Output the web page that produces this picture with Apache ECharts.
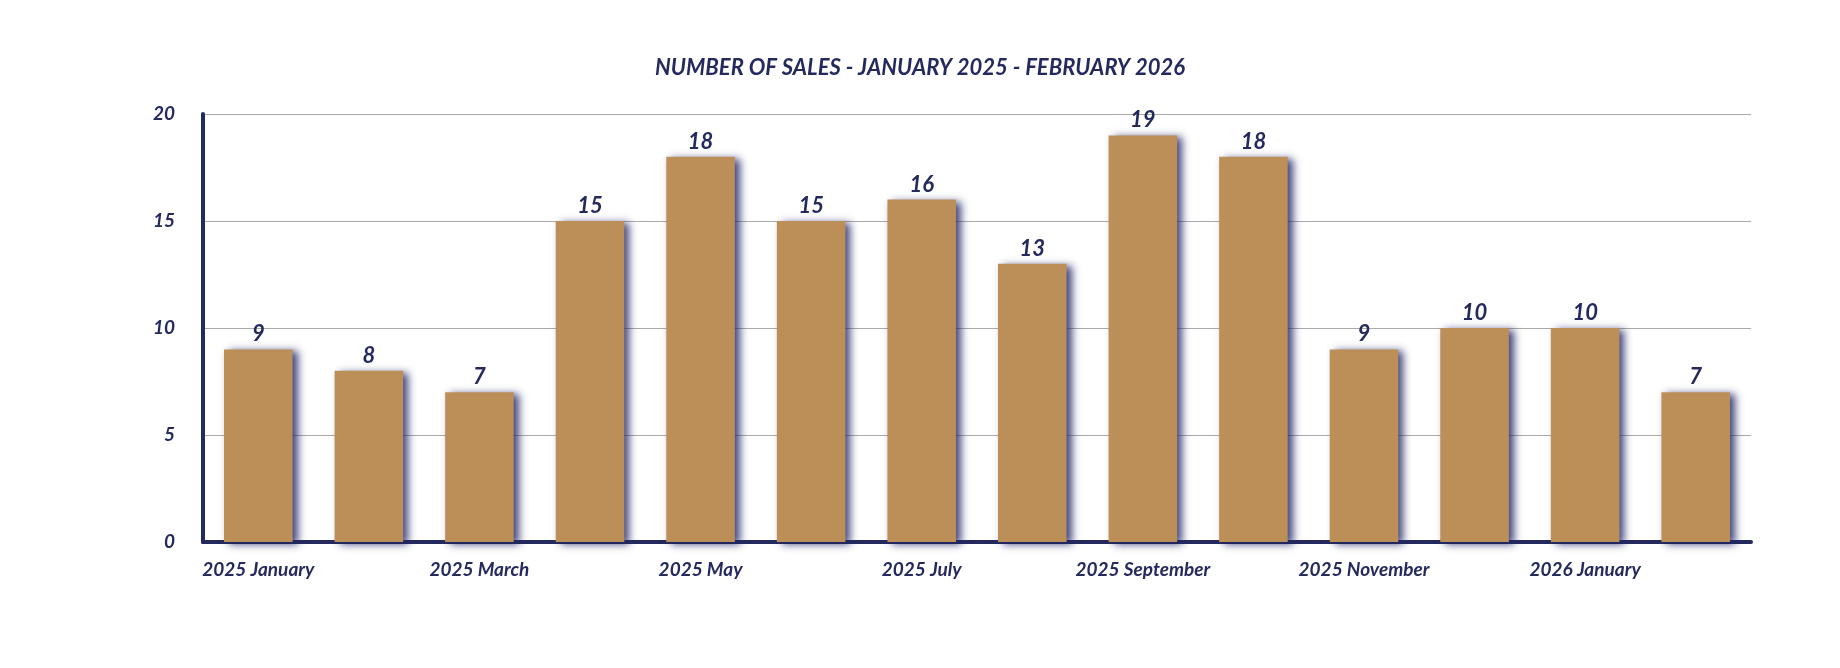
<!DOCTYPE html>
<html><head><meta charset="utf-8">
<script src="https://cdn.jsdelivr.net/npm/echarts@6/dist/echarts.min.js"></script>
<style>html,body{margin:0;background:#fff}#main{width:1840px;height:668px}</style>
</head><body><div id="main"></div>
<script>
const months = ['2025 January','2025 February','2025 March','2025 April','2025 May','2025 June','2025 July','2025 August','2025 September','2025 October','2025 November','2025 December','2026 January','2026 February'];
const sales = [9, 8, 7, 15, 18, 15, 16, 13, 19, 18, 9, 10, 10, 7];
const yTicks = [0, 5, 10, 15, 20];

const navy = '#252a5e';
const chart = echarts.init(document.getElementById('main'));
chart.setOption({
  title: {text: 'NUMBER OF SALES - JANUARY 2025 - FEBRUARY 2026', left: 'center', top: 52,
    textStyle: {color: navy, fontStyle: 'italic', fontWeight: 'bold', fontSize: 22, fontFamily: 'Lato'}},
  grid: {left: 203, right: 89, top: 114, bottom: 126},
  xAxis: {
    type: 'category', data: months,
    axisLine: {lineStyle: {color: navy, width: 4}},
    axisTick: {show: false},
    axisLabel: {interval: 1, color: navy, fontStyle: 'italic', fontWeight: 'bold', fontSize: 19, fontFamily: 'Lato', margin: 18}
  },
  yAxis: {
    type: 'value', min: yTicks[0], max: yTicks[yTicks.length - 1], interval: 5,
    axisLine: {show: true, lineStyle: {color: navy, width: 4}},
    axisTick: {show: false},
    splitLine: {lineStyle: {color: '#aaaaaa', width: 1}},
    axisLabel: {color: navy, fontStyle: 'italic', fontWeight: 'bold', fontSize: 19, fontFamily: 'Lato', margin: 28}
  },
  series: [{
    type: 'bar', data: sales, barWidth: '62%',
    itemStyle: {color: '#bc8f58', shadowColor: 'rgba(30,35,100,0.85)', shadowBlur: 8, shadowOffsetX: 5, shadowOffsetY: 2},
    label: {show: true, position: 'top', distance: 4, color: navy, fontStyle: 'italic', fontWeight: 'bold', fontSize: 22, fontFamily: 'Lato'}
  }]
});
</script></body></html>
